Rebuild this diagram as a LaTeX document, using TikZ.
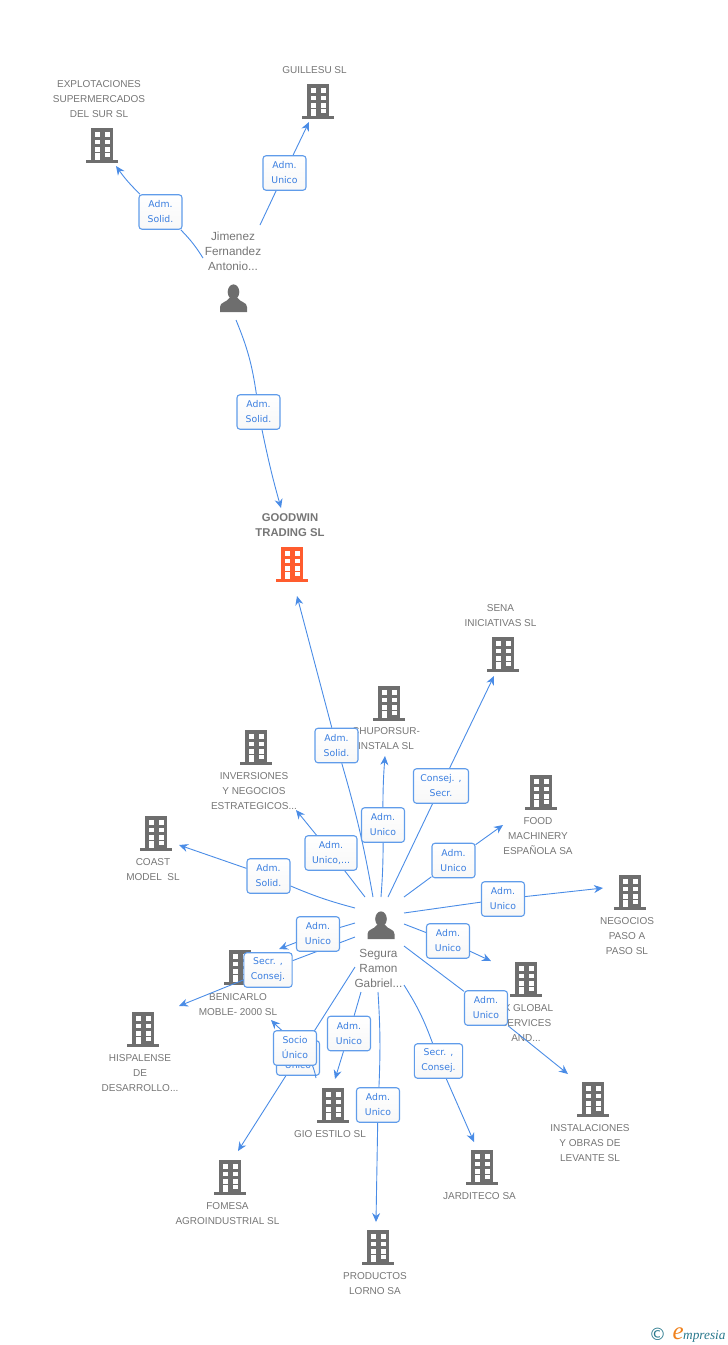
\documentclass[tikz,border=0pt]{standalone}
\usepackage{fontspec}
\setmainfont{Liberation Sans}
\newfontfamily\tagfont{DejaVu Sans}
\newfontfamily\logofont{Liberation Serif}
\usepackage{tikz}
\usetikzlibrary{arrows.meta,calc}
\definecolor{wire}{RGB}{74,140,230}
\definecolor{tagline}{RGB}{96,156,234}
\definecolor{tagtext}{RGB}{58,126,224}
\definecolor{iconfill}{RGB}{110,110,110}
\definecolor{labeltext}{RGB}{118,118,118}
\definecolor{target}{RGB}{255,92,46}
\definecolor{logoteal}{RGB}{40,120,140}
\definecolor{logoorange}{RGB}{240,130,30}
\pgfdeclarelayer{base}
\pgfdeclarelayer{wires}
\pgfsetlayers{base,wires,main}
\tikzset{
    company/.style={text=labeltext, align=center, inner sep=0pt, font=\fontsize{10}{15}\selectfont},
    person/.style={text=labeltext, align=center, inner sep=0pt, font=\fontsize{11.8}{15}\selectfont},
    tag/.style={draw=tagline, line width=1.1pt, rounded corners=3pt, top color=white, bottom color=black!3,
        text=tagtext, align=center, minimum width=43pt, minimum height=34.5pt, inner xsep=7pt, inner ysep=0pt,
        font=\tagfont\fontsize{9.3}{15}\selectfont},
    link/.style={draw=wire, line width=0.9pt},
    building/.pic={
        \fill[pic actions] (-11,-17) rectangle (11,15.5);
        \fill[pic actions] (-16,15) rectangle (16,17.7);
        \fill[white] (-7.3,-12.7) rectangle (-2.3,-8.4);
        \fill[white] (2.7,-12.7) rectangle (7.7,-8.4);
        \fill[white] (-7.3,-5.3) rectangle (-2.3,-1);
        \fill[white] (2.7,-5.3) rectangle (7.7,-1);
        \fill[white] (-7.3,2.2) rectangle (-2.3,6.5);
        \fill[white] (2.7,2.2) rectangle (7.7,6.5);
        \fill[white] (-7.3,8) rectangle (-2.3,15);
        \fill[white] (2.7,8) rectangle (7.7,12);
    },
    human/.pic={
        \fill[pic actions] (0,-6) ellipse (5.8 and 7.6);
        \fill[pic actions] (-13.5,14) -- (-13.5,9) .. controls (-13.5,4) and (-7,4.5) .. (-4,0) -- (4,0)
            .. controls (7,4.5) and (13.5,4) .. (13.5,9) -- (13.5,14) -- cycle;
    }
}

\begin{document}
\begin{tikzpicture}[x=1pt, y=-1pt, >={Stealth[length=9pt,width=8pt]}]
    \useasboundingbox (0,0) rectangle (728,1345);

    % Sociedades
    \begin{pgfonlayer}{base}
    \pic[fill=iconfill] at (102,145) {building};
    \node[company] (explotaciones) at (99,99) {EXPLOTACIONES\\SUPERMERCADOS\\DEL SUR SL};
    \pic[fill=iconfill] at (318,101) {building};
    \node[company] (guillesu) at (314.5,70) {GUILLESU SL};
    \pic[fill=target] at (292,564) {building};
    \node[company, text=labeltext, font=\bfseries\fontsize{11.3}{15}\selectfont] (goodwin) at (290,525.5) {GOODWIN\\TRADING SL};
    \pic[fill=iconfill] at (503,654) {building};
    \node[company] (sena) at (500.5,615.5) {SENA\\INICIATIVAS SL};
    \pic[fill=iconfill] at (389,703) {building};
    \node[company] (chuporsur) at (386,738.5) {CHUPORSUR-\\INSTALA SL};
    \pic[fill=iconfill] at (256,747) {building};
    \node[company] (inversiones) at (254,791) {INVERSIONES\\Y NEGOCIOS\\ESTRATEGICOS...};
    \pic[fill=iconfill] at (541,792) {building};
    \node[company] (food) at (538,836) {FOOD\\MACHINERY\\ESPAÑOLA SA};
    \pic[fill=iconfill] at (156,833) {building};
    \node[company] (coast) at (153,869.5) {COAST\\MODEL\ \ SL};
    \pic[fill=iconfill] at (630,892) {building};
    \node[company] (negocios) at (627,936) {NEGOCIOS\\PASO A\\PASO SL};
    \pic[fill=iconfill] at (240,967) {building};
    \node[company] (benicarlo) at (238,1004.5) {BENICARLO\\MOBLE- 2000 SL};
    \pic[fill=iconfill] at (526,979) {building};
    \node[company] (xglobal) at (526,1023) {\phantom{J}X GLOBAL\\SERVICES\\AND...};
    \pic[fill=iconfill] at (143,1029) {building};
    \node[company] (hispalense) at (140,1073) {HISPALENSE\\DE\\DESARROLLO...};
    \pic[fill=iconfill] at (333,1105) {building};
    \node[company] (gio) at (330,1134) {GIO ESTILO SL};
    \pic[fill=iconfill] at (593,1099) {building};
    \node[company] (instalaciones) at (590,1143) {INSTALACIONES\\Y OBRAS DE\\LEVANTE SL};
    \pic[fill=iconfill] at (482,1167) {building};
    \node[company] (jarditeco) at (479.5,1196) {JARDITECO SA};
    \pic[fill=iconfill] at (230,1177) {building};
    \node[company] (fomesa) at (227.5,1213.5) {FOMESA\\AGROINDUSTRIAL SL};
    \pic[fill=iconfill] at (378,1247) {building};
    \node[company] (productos) at (375,1283.5) {PRODUCTOS\\LORNO SA};

    % Personas
    \pic[fill=iconfill] at (233.5,298) {human};
    \node[person] (jimenez) at (233,251) {Jimenez\\Fernandez\\Antonio...};
    \pic[fill=iconfill] at (381,925) {human};
    \node[person] (segura) at (378.5,968) {Segura\\Ramon\\Gabriel...};
    \end{pgfonlayer}

    % Extremos libres
    \coordinate (explotacionesa) at (203,258);
    \coordinate (explotacionesb) at (116,166);
    \coordinate (guillesua) at (260,225);
    \coordinate (guillesub) at (309,122);
    \coordinate (jimgoodwina) at (236,320);
    \coordinate (jimgoodwinb) at (281,508);
    \coordinate (seggoodwina) at (373,897);
    \coordinate (seggoodwinb) at (297,596);
    \coordinate (chuporsura) at (381,897);
    \coordinate (chuporsurb) at (385,756);
    \coordinate (senaa) at (388,897);
    \coordinate (senab) at (494,676);
    \coordinate (inversionesa) at (365,897);
    \coordinate (inversionesb) at (296,810);
    \coordinate (fooda) at (404,897);
    \coordinate (foodb) at (503,825);
    \coordinate (coasta) at (355,908);
    \coordinate (coastb) at (179,845);
    \coordinate (negociosa) at (404,913);
    \coordinate (negociosb) at (603,888);
    \coordinate (benicarloa) at (355,923);
    \coordinate (benicarlob) at (279,949);
    \coordinate (hispalensea) at (355,937);
    \coordinate (hispalenseb) at (179,1006);
    \coordinate (xglobala) at (404,924);
    \coordinate (xglobalb) at (491,961);
    \coordinate (instalacionesa) at (404,946);
    \coordinate (instalacionesb) at (568,1074);
    \coordinate (gioa) at (361,992);
    \coordinate (giob) at (335,1079);
    \coordinate (variosa) at (316,1078);
    \coordinate (variosb) at (271,1020);
    \coordinate (fomesaa) at (355,967);
    \coordinate (fomesab) at (238,1151);
    \coordinate (jarditecoa) at (404,985);
    \coordinate (jarditecob) at (474,1142);
    \coordinate (productosa) at (378,992);
    \coordinate (productosb) at (376,1222);

    % Cargos
    \node[tag] (texplotaciones) at (160.5,212) {Adm.\\Solid.};
    \node[tag] (tguillesu) at (284.5,173) {Adm.\\Unico};
    \node[tag] (tjimgoodwin) at (258.5,412) {Adm.\\Solid.};
    \node[tag] (tseggoodwin) at (336.5,745.5) {Adm.\\Solid.};
    \node[tag] (tchuporsur) at (383,825) {Adm.\\Unico};
    \node[tag] (tsena) at (441,786) {Consej. ,\\Secr.};
    \node[tag] (tinversiones) at (331,853) {Adm.\\Unico,...};
    \node[tag] (tfood) at (453.5,860.5) {Adm.\\Unico};
    \node[tag] (tcoast) at (268.5,876) {Adm.\\Solid.};
    \node[tag] (tnegocios) at (503,899) {Adm.\\Unico};
    \node[tag] (tbenicarlo) at (318,934) {Adm.\\Unico};
    \node[tag] (thispalense) at (268,970) {Secr. ,\\Consej.};
    \node[tag] (txglobal) at (448,941) {Adm.\\Unico};
    \node[tag] (tinstalaciones) at (486,1008) {Adm.\\Unico};
    \node[tag] (tgio) at (349,1033.5) {Adm.\\Unico};
    \node[tag] (tvarios) at (298,1058) {Adm.\\Unico};
    \draw[link, ->] (variosa) to[out=100, in=-45] (variosb);
    \node[tag] (tfomesa) at (295,1048) {Socio\\Único};
    \node[tag] (tjarditeco) at (438.5,1061) {Secr. ,\\Consej.};
    \node[tag] (tproductos) at (378,1105) {Adm.\\Unico};

    % Conectores
    \begin{pgfonlayer}{wires}
    \draw[link] (explotacionesa) to[bend right=6] (texplotaciones);
    \draw[link, ->] (texplotaciones) to[bend left=5] (explotacionesb);
    \draw[link] (guillesua) -- (tguillesu);
    \draw[link, ->] (tguillesu) -- (guillesub);
    \draw[link] (jimgoodwina) to[bend left=7] (tjimgoodwin);
    \draw[link, ->] (tjimgoodwin) to[bend right=2] (jimgoodwinb);
    \draw[link] (seggoodwina) to[bend right=3] (tseggoodwin);
    \draw[link, ->] (tseggoodwin) -- (seggoodwinb);
    \draw[link] (chuporsura) to[bend right=2] (tchuporsur);
    \draw[link, ->] (tchuporsur) to[bend left=2] (chuporsurb);
    \draw[link] (senaa) -- (tsena);
    \draw[link, ->] (tsena) -- (senab);
    \draw[link] (inversionesa) -- (tinversiones);
    \draw[link, ->] (tinversiones) -- (inversionesb);
    \draw[link] (fooda) -- (tfood);
    \draw[link, ->] (tfood) -- (foodb);
    \draw[link] (coasta) to[bend left=4] (tcoast);
    \draw[link, ->] (tcoast) -- (coastb);
    \draw[link] (negociosa) -- (tnegocios);
    \draw[link, ->] (tnegocios) -- (negociosb);
    \draw[link] (benicarloa) -- (tbenicarlo);
    \draw[link, ->] (tbenicarlo) -- (benicarlob);
    \draw[link] (hispalensea) -- (thispalense);
    \draw[link, ->] (thispalense) -- (hispalenseb);
    \draw[link] (xglobala) -- (txglobal);
    \draw[link, ->] (txglobal) -- (xglobalb);
    \draw[link] (instalacionesa) -- (tinstalaciones);
    \draw[link, ->] (tinstalaciones) -- (instalacionesb);
    \draw[link] (gioa) -- (tgio);
    \draw[link, ->] (tgio) -- (giob);
    \draw[link, ->] (fomesaa) -- (fomesab);
    \draw[link] (jarditecoa) to[bend left=6] (tjarditeco);
    \draw[link, ->] (tjarditeco) -- (jarditecob);
    \draw[link] (productosa) to[bend left=3] (tproductos);
    \draw[link, ->] (tproductos) -- (productosb);
    \end{pgfonlayer}

    % Logo
    \node[text=logoteal, inner sep=0pt, font=\tagfont\fontsize{17}{17}\selectfont] (copyright) at (657.5,1334) {©};
    \node[text=logoteal, anchor=base west, inner sep=0pt, font=\logofont\itshape\fontsize{13.3}{15}\selectfont] (logo) at (683,1339) {mpresia};
    \node[text=logoorange, anchor=base east, inner sep=0pt, font=\logofont\itshape\fontsize{25}{25}\selectfont] (logoe) at ($(logo.base west)+(1,0)$) {e};
\end{tikzpicture}
\end{document}
